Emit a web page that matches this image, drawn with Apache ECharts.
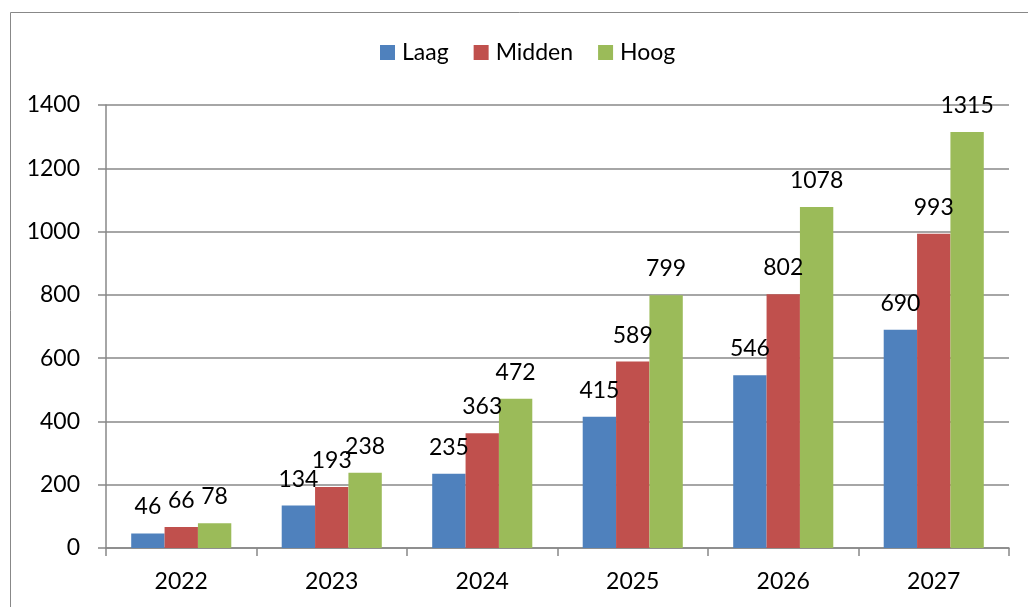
<!DOCTYPE html>
<html><head><meta charset="utf-8">
<script src="https://cdn.jsdelivr.net/npm/echarts@6/dist/echarts.min.js"></script>
<style>html,body{margin:0;padding:0;background:#fff}#c{width:1028px;height:607px}</style>
</head><body><div id="c"></div>
<script>
const categories = ['2022','2023','2024','2025','2026','2027'];
const laag = [46,134,235,415,546,690];
const midden = [66,193,363,589,802,993];
const hoog = [78,238,472,799,1078,1315];
const seriesNames = ['Laag','Midden','Hoog'];
const colors = ['#4F81BD','#C0504D','#9BBB59'];
const FONT = 'Lato';
const FS = 23;
const chart = echarts.init(document.getElementById('c'));
const mk = (name, data, color) => ({
  name, type:'bar', data, barGap:'0%', barCategoryGap:'33.5%',
  itemStyle:{color},
  label:{show:true, position:'top', distance:15, color:'#000', fontFamily:FONT, fontSize:FS}
});
chart.setOption({
  animation:false,
  textStyle:{fontFamily:FONT},
  graphic:[{type:'rect', shape:{x:10.5,y:12.5,width:1030,height:620}, style:{fill:'none', stroke:'#888', lineWidth:1}, silent:true, z:-1}],
  legend:{top:36, left:375, itemWidth:15, itemHeight:15, itemGap:25, icon:'rect',
    textStyle:{fontFamily:FONT, fontSize:FS, color:'#000', padding:[0,0,0,2]}, data:seriesNames},
  grid:{left:106, right:19, top:105, bottom:59, containLabel:false},
  xAxis:{type:'category', data:categories, boundaryGap:true,
    axisLine:{lineStyle:{color:'#888', width:1.5}},
    axisTick:{show:true, interval:0, length:8, lineStyle:{color:'#888', width:1.5}},
    axisLabel:{fontFamily:FONT, fontSize:FS, color:'#000', margin:22}},
  yAxis:{type:'value', min:0, max:1400, interval:200,
    axisLine:{show:true, lineStyle:{color:'#888', width:1.5}},
    axisTick:{show:true, length:8, lineStyle:{color:'#888', width:1.5}},
    splitLine:{lineStyle:{color:'#888', width:1.5}},
    axisLabel:{fontFamily:FONT, fontSize:FS, color:'#000', margin:26, formatter:v => String(v)}},
  series:[mk(seriesNames[0], laag, colors[0]), mk(seriesNames[1], midden, colors[1]), mk(seriesNames[2], hoog, colors[2])]
});
</script></body></html>
